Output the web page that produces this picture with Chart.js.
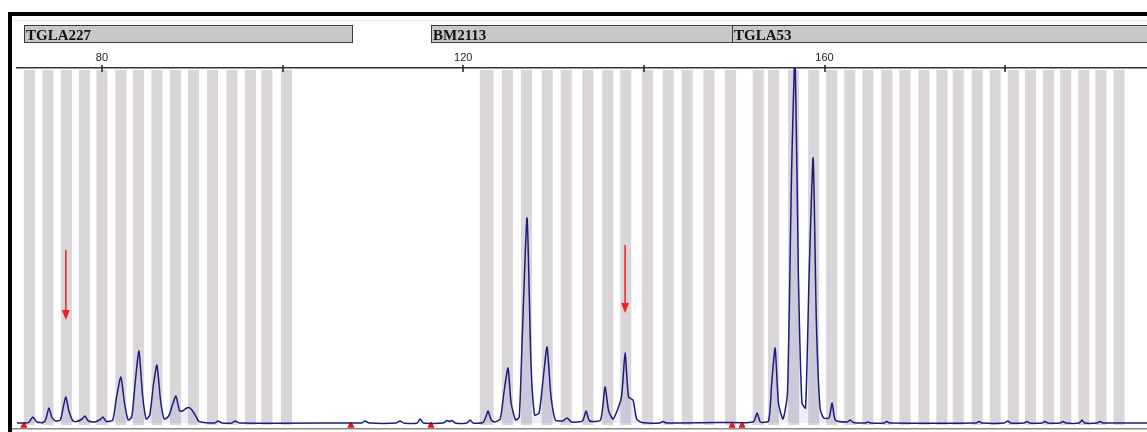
<!DOCTYPE html>
<html>
<head>
<meta charset="utf-8">
<script src="https://cdn.jsdelivr.net/npm/chart.js@4.4.1/dist/chart.umd.min.js"></script>
<style>
  html, body { margin: 0; padding: 0; background: #fff; }
  canvas { display: block; }
</style>
</head>
<body>
<canvas id="myChart" width="1147" height="432"></canvas>
<script>
// Fragment size (bp) and signal (RFU) of the trace
const traceBp = [
    70.6, 71.5, 71.9, 72.36, 72.8, 73.5, 73.8, 74.13, 74.5, 74.9, 75.4, 75.7, 76.01, 76.35, 76.8,
    77.2, 77.8, 78.12, 78.5, 79.2, 79.8, 80.11, 80.5, 81.2, 81.6, 82.1, 82.5, 82.9, 83.3, 83.7,
    84.1, 84.5, 84.9, 85.3, 85.7, 86.09, 86.5, 86.9, 87.4, 87.8, 88.19, 88.6, 88.9, 89.4, 89.75,
    90.2, 90.7, 91.3, 92.5, 92.85, 93.3, 94.4, 94.73, 95.2, 107.57, 108.8, 109.12, 109.6, 112.6,
    113.0, 113.4, 114.9, 115.22, 115.6, 117.8, 118.2, 118.5, 118.76, 119.1, 120.4, 120.75, 121.1,
    122.2, 122.5, 122.75, 123.1, 123.5, 124.1, 124.5, 124.96, 125.3, 125.8, 126.2, 126.55, 127.07,
    127.5, 127.9, 128.4, 128.8, 129.28, 129.7, 130.2, 131.0, 131.5, 132.0, 133.2, 133.6, 134.0,
    135.2, 135.7, 136.1, 136.6, 137.5, 137.92, 138.3, 138.8, 139.2, 139.8, 141.8, 142.13, 142.5,
    149.0, 152.1, 152.54, 152.9, 153.8, 154.15, 154.53, 154.9, 155.4, 155.9, 156.35, 156.74,
    157.1, 157.5, 157.9, 158.3, 158.74, 159.1, 159.5, 159.9, 160.5, 160.84, 161.2, 162.5, 162.83,
    163.2, 164.5, 164.8, 165.1, 166.6, 166.9, 167.2, 176.8, 177.1, 177.4, 179.9, 180.3, 180.6,
    182.1, 182.4, 182.7, 184.1, 184.4, 184.7, 186.1, 186.4, 186.7, 188.2, 188.5, 188.8, 190.2,
    190.5, 190.8, 195.7
];
const traceRfu = [
    0, 0, 5, 60, 10, 5, 40, 150, 50, 20, 30, 150, 260, 120, 20,
    15, 40, 70, 20, 10, 35, 60, 15, 30, 250, 460, 200, 30, 60, 420,
    720, 280, 40, 80, 380, 580, 220, 40, 70, 180, 270, 120, 120, 150, 150,
    100, 20, 5, 0, 20, 0, 0, 20, 0, 0, 0, 20, 0, 0,
    20, 0, 0, 40, 0, 0, 25, 15, 25, 0, 0, 30, 0,
    5, 60, 120, 30, 10, 40, 300, 550, 200, 30, 60, 900, 2050,
    600, 80, 100, 400, 760, 280, 30, 20, 50, 10, 20, 120, 20,
    30, 360, 120, 40, 250, 700, 260, 230, 40, 5, 0, 15, 0,
    5, 10, 100, 10, 20, 400, 750, 200, 40, 300, 2500, 3700,
    1500, 200, 150, 1500, 2650, 1000, 150, 50, 50, 200, 30, 10, 30,
    5, 0, 10, 0, 0, 15, 0, 0, 15, 0, 0, 20, 0,
    0, 15, 0, 0, 15, 0, 0, 15, 0, 0, 30, 0, 0,
    15, 0, 0
];

// Allele bins (bin centres in bp) per marker
const binsTGLA227 = [71.97, 74.02, 76.07, 78.06, 80.0, 82.1, 84.04, 86.09, 88.14, 90.13, 92.24, 94.4, 96.45, 98.27, 100.43];
const binsBM2113 = [122.45, 122.75, 124.9, 127.0, 129.3, 131.4, 133.8, 136.0, 138.0, 140.4, 142.7, 144.8, 147.2, 149.6];
const binsTGLA53 = [152.65, 154.36, 156.58, 158.8, 160.8, 162.8, 164.8, 166.9, 168.9, 171.0, 173.0, 174.8, 176.9, 178.9,
    180.9, 182.8, 184.8, 186.7, 188.7, 190.6, 192.6];
const binWidth = 1.22;

// Marker names and their size ranges
const lociNames = ['TGLA227', 'BM2113', 'TGLA53'];
const lociStart = [71.36, 116.4, 149.77];
const lociEnd = [107.7, 149.77, 200];

// Size standard marks on the baseline
const markerBp = [71.36, 107.57, 116.43, 149.77, 150.87];
const markerRfu = [-25, -25, -25, -25, -25];

// Red arrows (size, start and tip signal)
const arrowBp = [76.01, 137.92];
const arrowTop = [1730, 1780];
const arrowTip = [1030, 1100];

// x axis ticks
const tickValues = [80, 100, 120, 140, 160, 180];
const tickLabels = ['80', '', '120', '', '160', ''];

const binsPlugin = {
    id: 'bins',
    beforeDatasetsDraw(chart) {
        const { ctx, chartArea, scales } = chart;
        const x = scales.x, y = scales.y;
        const bottom = y.getPixelForValue(-20);
        ctx.save();
        ctx.fillStyle = '#d9d5d9';
        [...binsTGLA227, ...binsBM2113, ...binsTGLA53].forEach(c => {
            const l = x.getPixelForValue(c - binWidth / 2);
            const r = x.getPixelForValue(c + binWidth / 2);
            ctx.fillRect(l, chartArea.top + 2, r - l, bottom - chartArea.top - 2);
        });
        ctx.restore();
    },
    afterDraw(chart) {
        const { ctx, chartArea, scales } = chart;
        const x = scales.x, y = scales.y;
        ctx.save();

        // faint rule above the marker bars
        ctx.strokeStyle = '#e2e2e2';
        ctx.lineWidth = 1;
        ctx.beginPath();
        ctx.moveTo(14, 20.5);
        ctx.lineTo(chart.width, 20.5);
        ctx.stroke();

        // marker name bars
        lociNames.forEach((name, i) => {
            const l = Math.round(x.getPixelForValue(lociStart[i])) + 0.5;
            const r = Math.min(Math.round(x.getPixelForValue(lociEnd[i])), chart.width + 2) + 0.5;
            ctx.fillStyle = '#c8c8c8';
            ctx.fillRect(l, 25.5, r - l, 17);
            ctx.strokeStyle = '#3a3a3a';
            ctx.strokeRect(l, 25.5, r - l, 17);
            ctx.fillStyle = '#111';
            ctx.font = 'bold 15px "Liberation Serif"';
            ctx.textBaseline = 'alphabetic';
            ctx.fillText(name, l + 1.5, 39.5);
        });

        // tick marks crossing the axis line
        ctx.strokeStyle = '#222';
        ctx.lineWidth = 1.5;
        tickValues.forEach(v => {
            const px = Math.round(x.getPixelForValue(v));
            ctx.beginPath();
            ctx.moveTo(px, chartArea.top - 3);
            ctx.lineTo(px, chartArea.top + 4);
            ctx.stroke();
        });

        // red arrows
        ctx.strokeStyle = '#ee2020';
        ctx.fillStyle = '#ee2020';
        ctx.lineWidth = 1.5;
        arrowBp.forEach((v, i) => {
            const px = x.getPixelForValue(v);
            const t = y.getPixelForValue(arrowTop[i]);
            const b = y.getPixelForValue(arrowTip[i]);
            ctx.beginPath();
            ctx.moveTo(px, t);
            ctx.lineTo(px, b - 8);
            ctx.stroke();
            ctx.beginPath();
            ctx.moveTo(px - 4, b - 10);
            ctx.lineTo(px + 4, b - 10);
            ctx.lineTo(px, b);
            ctx.closePath();
            ctx.fill();
        });

        // bottom rule and frame
        ctx.fillStyle = '#8a8a8a';
        ctx.fillRect(12, 428, chart.width - 12, 1.5);
        ctx.fillStyle = '#000';
        ctx.fillRect(8, 12, 4, chart.height - 12);
        ctx.fillRect(8, 12, chart.width - 8, 4);
        ctx.restore();
    }
};

const ctx = document.getElementById('myChart').getContext('2d');
const myChart = new Chart(ctx, {
    type: 'line',
    data: {
        datasets: [{
            label: 'Signal',
            data: traceBp.map((v, i) => ({ x: v, y: traceRfu[i] })),
            borderColor: '#1c1c7a',
            borderWidth: 1.5,
            backgroundColor: 'rgba(130,130,230,0.14)',
            fill: 'origin',
            pointRadius: 0,
            tension: 0.2,
        }, {
            label: 'Size standard',
            data: markerBp.map((v, i) => ({ x: v, y: markerRfu[i] })),
            showLine: false,
            pointStyle: 'triangle',
            pointRadius: 3.5,
            backgroundColor: '#e81818',
            borderColor: '#e81818',
            clip: false,
        }]
    },
    options: {
        responsive: false,
        animation: false,
        layout: { autoPadding: false, padding: { left: 17, right: 0, top: 0, bottom: 4 } },
        plugins: {
            legend: { display: false },
            tooltip: { enabled: false },
        },
        scales: {
            x: {
                type: 'linear',
                position: 'top',
                min: 70.6,
                max: 195.7,
                afterFit: s => { s.height = 68; s.paddingLeft = 0; s.paddingRight = 0; },
                afterBuildTicks: s => { s.ticks = tickValues.map(v => ({ value: v })); },
                ticks: {
                    autoSkip: false,
                    maxRotation: 0,
                    padding: 0,
                    color: '#222',
                    font: { family: '"Liberation Sans"', size: 11 },
                    callback: (v) => tickLabels[tickValues.indexOf(v)],
                },
                grid: { display: true, drawOnChartArea: false, drawTicks: true, tickLength: 3, color: 'rgba(0,0,0,0)' },
                border: { display: true, color: '#333', width: 1.5 },
            },
            y: {
                display: false,
                min: -50,
                max: 3550,
            },
        },
    },
    plugins: [binsPlugin]
});
</script>
</body>
</html>
